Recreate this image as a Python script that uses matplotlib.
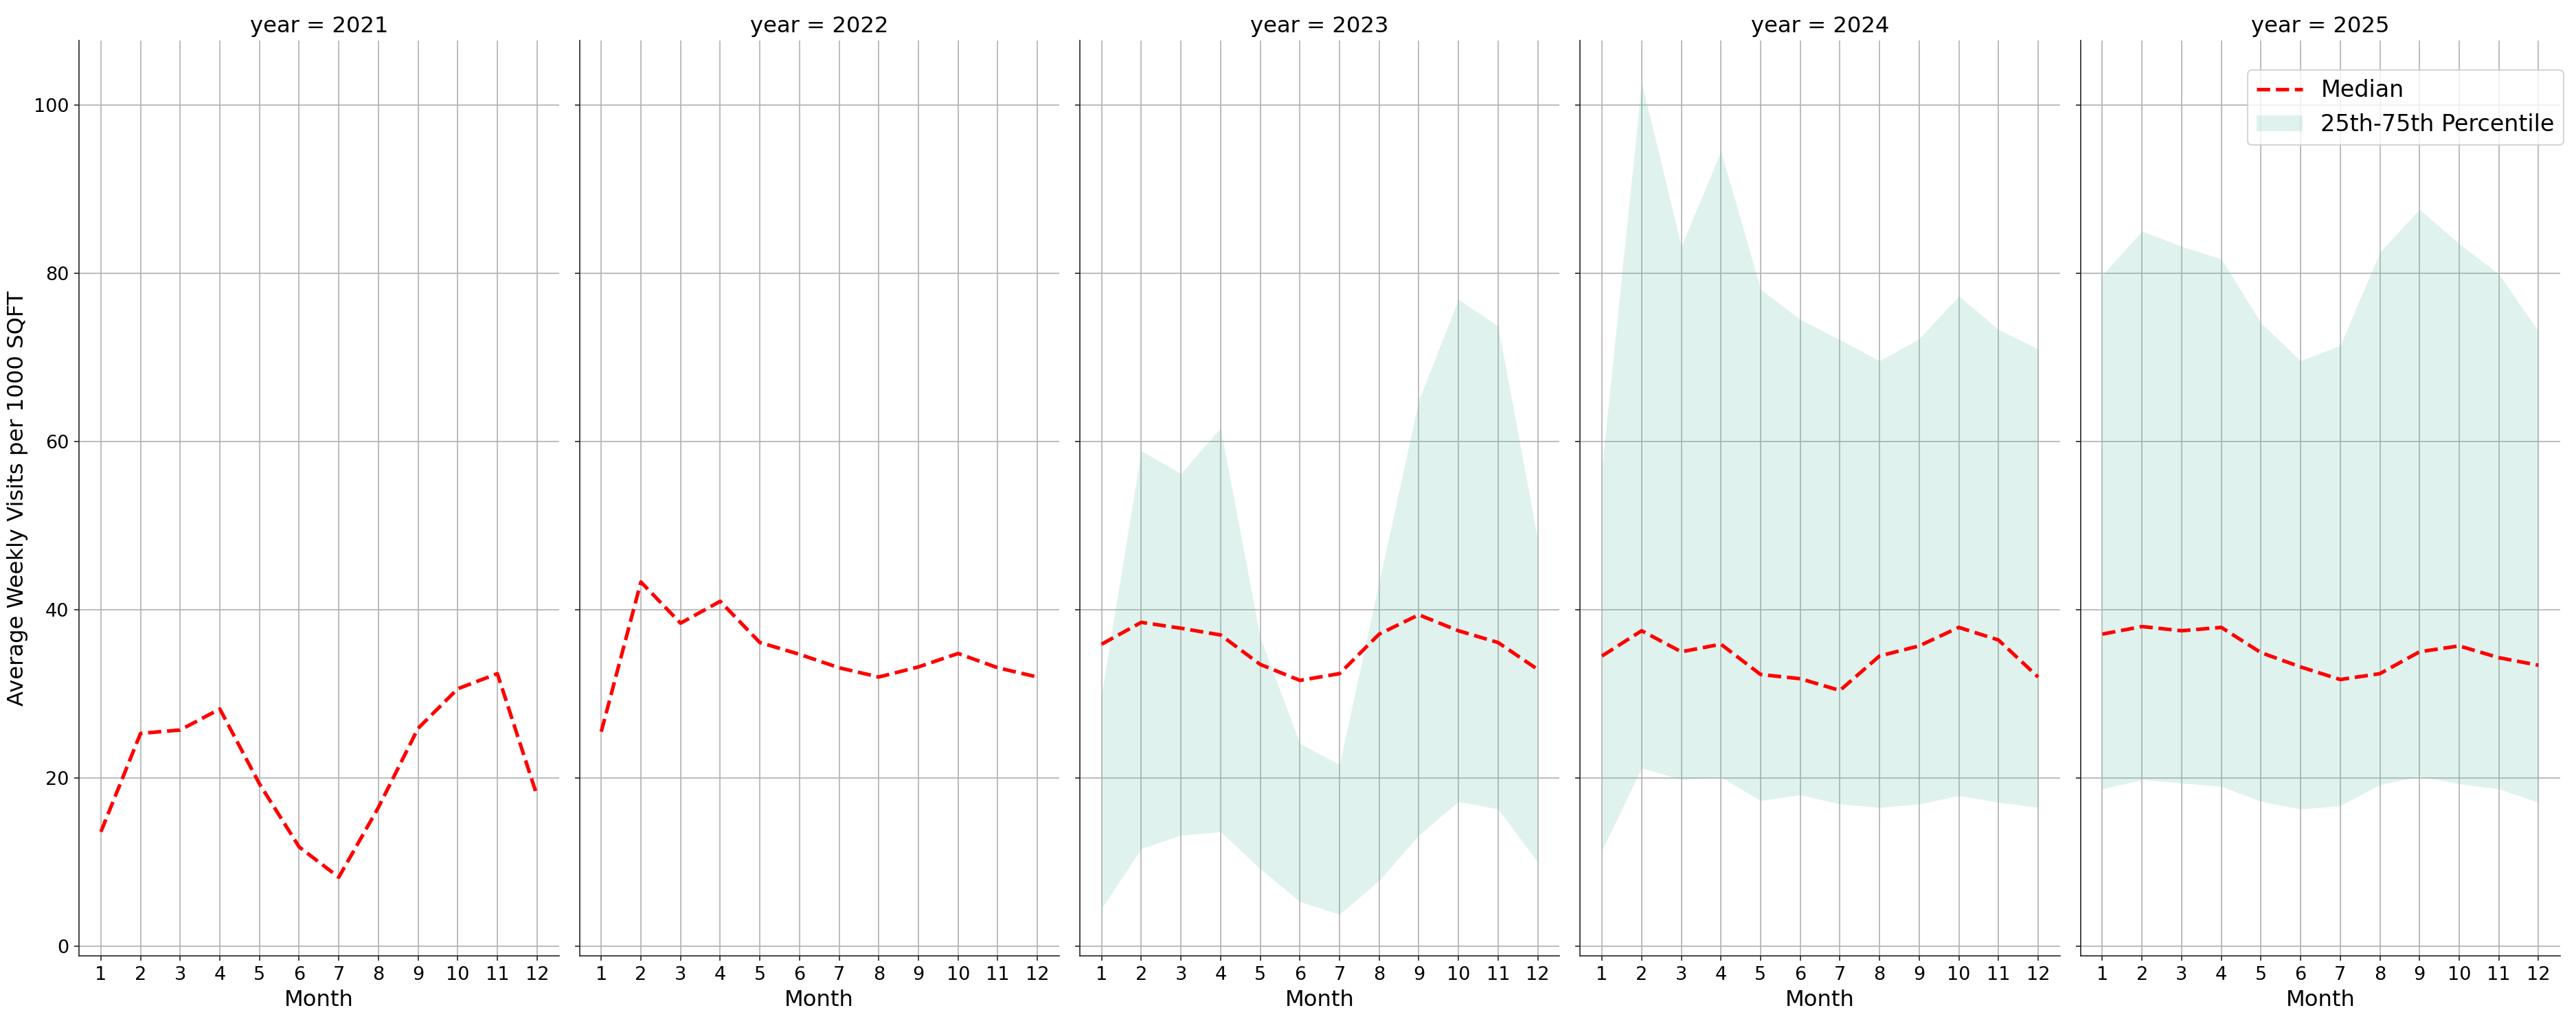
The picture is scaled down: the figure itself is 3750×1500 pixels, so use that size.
import numpy as np
import matplotlib.pyplot as plt

months = list(range(1, 13))
years = [2021, 2022, 2023, 2024, 2025]

# median weekly visits per 1000 sqft
median_2021 = [13.6, 25.3, 25.7, 28.2, 19.3, 11.8, 8.2, 16.5, 25.9, 30.6, 32.4, 17.9]
median_2022 = [25.5, 43.3, 38.4, 41.0, 36.1, 34.7, 33.1, 32.0, 33.2, 34.8, 33.1, 32.0]
median_2023 = [35.9, 38.5, 37.8, 37.0, 33.5, 31.6, 32.4, 37.1, 39.4, 37.5, 36.1, 32.9]
median_2024 = [34.5, 37.5, 35.0, 35.9, 32.3, 31.8, 30.4, 34.5, 35.7, 37.9, 36.4, 32.0]
median_2025 = [37.1, 38.0, 37.5, 37.9, 34.9, 33.2, 31.7, 32.4, 35.0, 35.7, 34.3, 33.4]

# 25th / 75th percentile band (no band shown for 2021, 2022)
p25_2023 = [4.5, 11.6, 13.2, 13.6, 9.2, 5.3, 3.8, 7.8, 13.2, 17.2, 16.3, 10.0]
p75_2023 = [30.0, 58.9, 56.2, 61.6, 36.7, 24.1, 21.6, 43.3, 64.9, 76.9, 73.7, 48.3]
p25_2024 = [11.4, 21.2, 19.8, 20.1, 17.3, 18.0, 16.9, 16.5, 16.9, 17.9, 17.1, 16.5]
p75_2024 = [57.0, 102.7, 83.2, 94.5, 78.1, 74.5, 72.1, 69.6, 72.2, 77.3, 73.3, 71.0]
p25_2025 = [18.7, 19.8, 19.4, 19.0, 17.2, 16.3, 16.7, 19.2, 20.2, 19.3, 18.7, 17.1]
p75_2025 = [79.8, 85.0, 83.2, 81.7, 74.1, 69.6, 71.4, 82.5, 87.6, 83.5, 79.9, 73.1]

medians = {2021: median_2021, 2022: median_2022, 2023: median_2023,
           2024: median_2024, 2025: median_2025}
bands = {2023: (p25_2023, p75_2023), 2024: (p25_2024, p75_2024),
         2025: (p25_2025, p75_2025)}

plt.rcParams.update({'font.size': 16, 'axes.axisbelow': True})
fig, axes = plt.subplots(1, 5, figsize=(25, 10), dpi=150, sharey=True)
fig.subplots_adjust(left=0.0307, right=0.9939, bottom=0.072, top=0.9605, wspace=0.043)

for ax, yr in zip(axes, years):
    if yr in bands:
        lo, hi = bands[yr]
        ax.fill_between(months, lo, hi, color='#66c2a5', alpha=0.2, linewidth=0,
                        label='25th-75th Percentile')
    ax.plot(months, medians[yr], color='red', linestyle='--', linewidth=2.5, label='Median')
    ax.set_title('year = {0}'.format(yr), fontsize=15.5)
    ax.set_xticks(months)
    ax.set_xlabel('Month', fontsize=15.5)
    ax.tick_params(labelsize=13, colors='.15', labelcolor='black')
    ax.grid(True, color='#b0b0b0', linewidth=0.8)
    ax.spines['top'].set_visible(False)
    ax.spines['right'].set_visible(False)
    for s in ['left', 'bottom']:
        ax.spines[s].set_color('.15')
    if yr != years[0]:
        ax.tick_params(labelleft=False)

axes[0].set_ylabel('Average Weekly Visits per 1000 SQFT', fontsize=15.5)

handles, labels = axes[-1].get_legend_handles_labels()
order = [labels.index('Median'), labels.index('25th-75th Percentile')]
axes[-1].legend([handles[i] for i in order], [labels[i] for i in order],
                loc='upper right', bbox_to_anchor=(1.007, 0.968), fontsize=16, borderaxespad=0)

fig.savefig('out.png', dpi=150)
